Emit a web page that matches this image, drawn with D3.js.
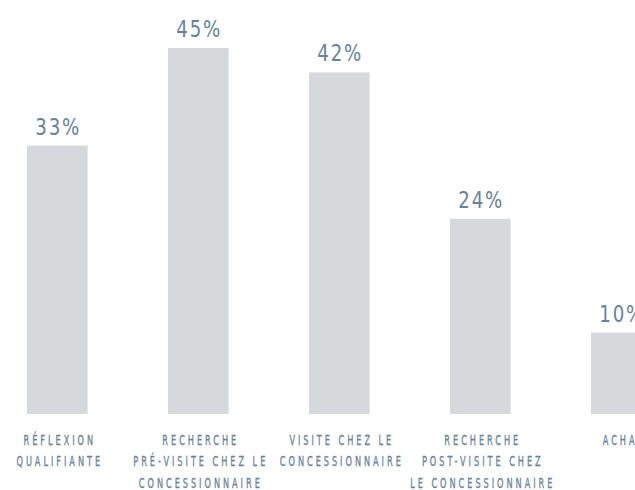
<!DOCTYPE html>
<html>
<head>
<meta charset="utf-8">
<script src="https://cdn.jsdelivr.net/npm/d3@7"></script>
<style>
  html, body { margin: 0; padding: 0; background: #fff; }
  svg { display: block; }
  .value-label {
    font-family: "DejaVu Sans", sans-serif;
    font-size: 23.3px;
    letter-spacing: 2.4px;
    fill: #6a8299;
  }
  .cat-label {
    font-family: "DejaVu Sans", sans-serif;
    font-size: 14.6px;
    letter-spacing: 5.3px;
    fill: #6a8299;
    stroke: #6a8299;
    stroke-width: 0.35px;
  }
</style>
</head>
<body>
<svg width="635" height="490"></svg>
<script>
const categories = ["reflexion", "pre-visite", "visite", "post-visite", "achat"];
const categoryLines = [
  ["RÉFLEXION", "QUALIFIANTE"],
  ["RECHERCHE", "PRÉ-VISITE CHEZ LE", "CONCESSIONNAIRE"],
  ["VISITE CHEZ LE", "CONCESSIONNAIRE"],
  ["RECHERCHE", "POST-VISITE CHEZ", "LE CONCESSIONNAIRE"],
  ["ACHAT"]
];
const values = [33, 45, 42, 24, 10];

const svg = d3.select("svg");
const baseline = 414;

const x = d3.scaleBand()
  .domain(categories)
  .range([-13.2, 691.8])
  .paddingInner(0.57)
  .paddingOuter(0.285);

const y = d3.scaleLinear()
  .domain([0, 45])
  .range([baseline, 48]);

const cx = i => x(categories[i]) + x.bandwidth() / 2;

// bars
svg.append("g")
  .selectAll("rect")
  .data(values)
  .enter()
  .append("rect")
  .attr("x", (d, i) => x(categories[i]))
  .attr("y", d => y(d))
  .attr("width", x.bandwidth())
  .attr("height", d => baseline - y(d))
  .attr("fill", "#d7d8dc");

// value labels, squeezed horizontally to mimic a condensed face
svg.append("g")
  .selectAll("g")
  .data(values)
  .enter()
  .append("g")
  .attr("transform", (d, i) => `translate(${cx(i) + 0.9},${y(d) - 11}) scale(0.78,1)`)
  .append("text")
  .attr("class", "value-label")
  .attr("text-anchor", "middle")
  .text(d => d + "%");

// category labels
const catG = svg.append("g");
categoryLines.forEach((lines, i) => {
  const t = catG.append("g")
    .attr("transform", `translate(${cx(i) + 2.5},445) scale(0.56,1)`)
    .append("text")
    .attr("class", "cat-label")
    .attr("text-anchor", "middle");
  lines.forEach((line, j) => {
    t.append("tspan")
      .attr("x", 0)
      .attr("dy", j === 0 ? 0 : 21.3)
      .text(line);
  });
});
</script>
</body>
</html>
